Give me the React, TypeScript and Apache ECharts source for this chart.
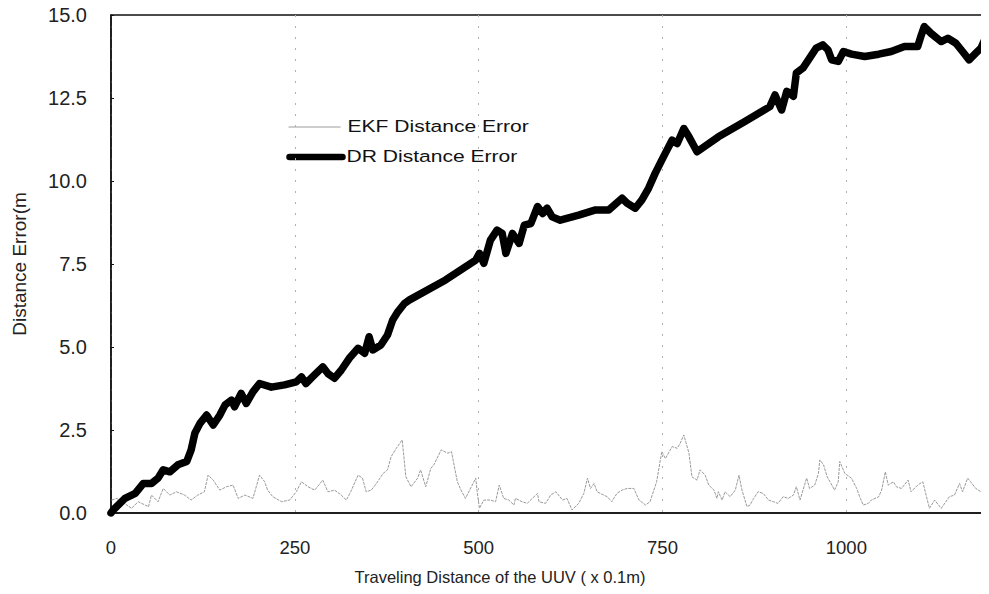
import React, { useEffect, useRef } from "react";
import * as echarts from "echarts";

const xTicks = [0, 250, 500, 750, 1000];
const yTicks = [0, 2.5, 5, 7.5, 10, 12.5, 15];

const drX = [0,3,19,33,44,55,64,71,80,91,103,109,114,121,130,139,148,155,164,168,177,184,193,202,218,236,252,259,265,274,288,295,304,313,324,336,345,351,356,367,376,383,390,399,406,455,496,501,507,516,525,532,537,546,555,562,571,580,587,593,600,611,636,659,677,695,702,713,722,731,740,749,756,763,770,779,786,797,826,862,896,903,912,919,928,932,941,950,959,968,975,980,989,996,1007,1025,1044,1061,1079,1097,1102,1106,1115,1129,1138,1149,1158,1167,1176,1183,1188,1192];
const drY = [0,0.09,0.44,0.59,0.89,0.89,1.05,1.3,1.24,1.45,1.55,1.9,2.4,2.7,2.95,2.65,2.95,3.25,3.4,3.2,3.6,3.3,3.65,3.9,3.79,3.86,3.95,4.1,3.9,4.1,4.4,4.2,4.06,4.3,4.66,4.96,4.81,5.31,4.91,5.06,5.36,5.81,6.06,6.31,6.42,7.02,7.62,7.82,7.52,8.22,8.52,8.42,7.82,8.42,8.12,8.67,8.72,9.23,9.02,9.18,8.92,8.82,8.97,9.13,9.13,9.48,9.33,9.18,9.43,9.78,10.23,10.63,10.93,11.23,11.13,11.58,11.33,10.88,11.33,11.79,12.24,12.59,12.14,12.7,12.55,13.25,13.4,13.7,14.0,14.1,13.95,13.65,13.6,13.9,13.82,13.75,13.82,13.9,14.05,14.05,14.4,14.65,14.45,14.2,14.3,14.15,13.9,13.65,13.85,14.0,14.25,14.2];

const ekfX = [1,8,15,28,37,51,55,64,71,80,89,100,109,118,127,132,139,148,157,166,173,182,193,202,209,213,220,232,243,252,259,268,277,288,295,304,313,320,326,336,342,347,354,361,370,376,381,388,396,401,408,417,421,428,435,439,449,458,463,471,476,482,496,498,501,507,516,523,528,534,541,548,550,559,566,573,580,582,591,598,605,614,620,627,636,643,648,652,657,661,670,675,681,688,695,702,711,718,727,733,742,749,754,763,770,774,779,786,790,797,801,808,813,820,824,826,831,835,842,849,854,858,865,869,874,880,887,894,901,907,914,921,928,932,937,946,950,957,962,964,969,974,984,989,991,998,1007,1014,1019,1023,1030,1034,1044,1048,1053,1057,1064,1068,1075,1084,1088,1097,1104,1109,1113,1120,1129,1140,1147,1154,1158,1165,1169,1176,1183,1190];
const ekfY = [0.39,0.44,0.34,0.14,0.34,0.19,0.54,0.34,0.74,0.54,0.64,0.54,0.39,0.54,0.64,1.14,0.99,0.69,0.79,0.84,0.44,0.54,0.44,1.14,0.94,0.69,0.49,0.34,0.39,0.64,0.94,0.79,0.69,0.99,0.64,0.69,0.54,0.39,0.64,1.14,1.05,0.64,0.69,0.89,1.19,1.3,1.7,1.95,2.2,1.09,0.79,1.05,1.3,0.79,1.35,1.45,1.9,1.8,1.85,0.94,0.69,0.44,1.05,0.64,0.14,0.39,0.39,0.34,0.84,0.44,0.39,0.24,0.44,0.34,0.29,0.44,0.59,0.34,0.29,0.54,0.64,0.39,0.44,0.09,0.29,0.59,1.05,0.74,0.89,0.64,0.54,0.49,0.34,0.59,0.69,0.74,0.74,0.39,0.24,0.34,0.94,1.85,1.64,2.0,1.95,2.1,2.35,1.8,1.09,0.99,1.3,1.14,0.84,0.69,0.44,0.64,0.39,0.64,0.49,0.69,1.14,0.69,0.19,0.24,0.44,0.64,0.59,0.39,0.34,0.29,0.49,0.44,0.54,0.79,0.39,1.05,0.74,0.84,1.19,1.6,1.45,1.09,0.69,0.94,1.55,1.19,1.05,0.74,0.44,0.24,0.29,0.39,0.49,0.69,1.24,0.84,0.94,0.79,0.74,0.99,0.64,0.84,0.94,0.49,0.14,0.39,0.14,0.49,0.54,0.89,0.64,1.05,0.94,0.74,0.64,0.64];

const seriesNames = ["EKF Distance Error", "DR Distance Error"];
const xTitle = "Traveling Distance of the UUV ( x 0.1m)";
const yTitle = "Distance Error(m";

const FONT = "Liberation Sans, Arial, sans-serif";
const EKF_COLOR = "#9a9a9a";
const DR_COLOR = "#000000";

export default function App() {
  const ref = useRef<HTMLDivElement>(null);
  useEffect(() => {
    if (!ref.current) return;
    const chart = echarts.init(ref.current, null, { renderer: "svg" });
    const ekf = ekfX.map((x, i) => [x, ekfY[i]]);
    const dr = drX.map((x, i) => [x, drY[i]]);
    chart.setOption({
      animation: false,
      backgroundColor: "#ffffff",
      textStyle: { fontFamily: FONT },
      grid: {
        left: 111,
        top: 15,
        right: -3,
        bottom: 81,
        show: true,
        borderColor: "#111",
        borderWidth: 1.5,
      },
      graphic: [
        {
          type: "group",
          left: 286,
          top: 118,
          children: [
            { type: "line", shape: { x1: 0, y1: 9, x2: 52, y2: 9 }, style: { stroke: EKF_COLOR, lineWidth: 1 } },
            { type: "text", x: 59, y: 0, scaleX: 1.24, style: { text: seriesNames[0], fontSize: 17, fill: "#111", fontFamily: FONT } },
            { type: "line", shape: { x1: 1, y1: 39, x2: 54, y2: 39 }, style: { stroke: DR_COLOR, lineWidth: 6.5, lineCap: "round" } },
            { type: "text", x: 58, y: 30, scaleX: 1.24, style: { text: seriesNames[1], fontSize: 17, fill: "#111", fontFamily: FONT } },
          ],
        },
        {
          type: "text",
          x: 500,
          y: 577,
          style: {
            text: xTitle,
            fontSize: 16.5,
            fill: "#222",
            fontFamily: FONT,
            align: "center",
            verticalAlign: "middle",
          },
        },
      ],
      xAxis: {
        type: "value",
        min: 0,
        max: 1194,
        interval: 250,
        axisLine: { show: true, onZero: false, lineStyle: { color: "#111", width: 1.5 } },
        axisTick: { show: false },
        axisLabel: {
          fontSize: 18.5,
          color: "#222",
          margin: 25,
          showMaxLabel: false,
          formatter: (v: number) => (xTicks.includes(v) ? String(v) : ""),
        },
        splitLine: { show: true, lineStyle: { color: "#b0b0b0", type: [2, 9], width: 1 } },
      },
      yAxis: {
        type: "value",
        min: 0,
        max: 15,
        interval: 2.5,
        name: yTitle,
        nameLocation: "middle",
        nameGap: 82,
        nameRotate: 90,
        nameTextStyle: { fontSize: 19, color: "#222", fontFamily: FONT },
        axisLine: { show: true, lineStyle: { color: "#111", width: 1.5 } },
        axisTick: { show: true, inside: true, length: 3, lineStyle: { color: "#111" } },
        axisLabel: {
          fontSize: 20,
          color: "#222",
          margin: 24,
          formatter: (v: number) => (yTicks.includes(v) ? v.toFixed(1) : ""),
        },
        splitLine: { show: false },
      },
      series: [
        {
          name: seriesNames[0],
          type: "line",
          data: ekf,
          symbol: "none",
          lineStyle: { color: EKF_COLOR, width: 1, type: [3, 1] },
          itemStyle: { color: EKF_COLOR },
          z: 2,
        },
        {
          name: seriesNames[1],
          type: "line",
          data: dr,
          symbol: "none",
          lineStyle: { color: DR_COLOR, width: 7.5, join: "round", cap: "round" },
          itemStyle: { color: DR_COLOR },
          z: 3,
        },
      ],
    });
    return () => chart.dispose();
  }, []);
  return <div ref={ref} style={{ width: 989, height: 594, margin: -8 }} />;
}
